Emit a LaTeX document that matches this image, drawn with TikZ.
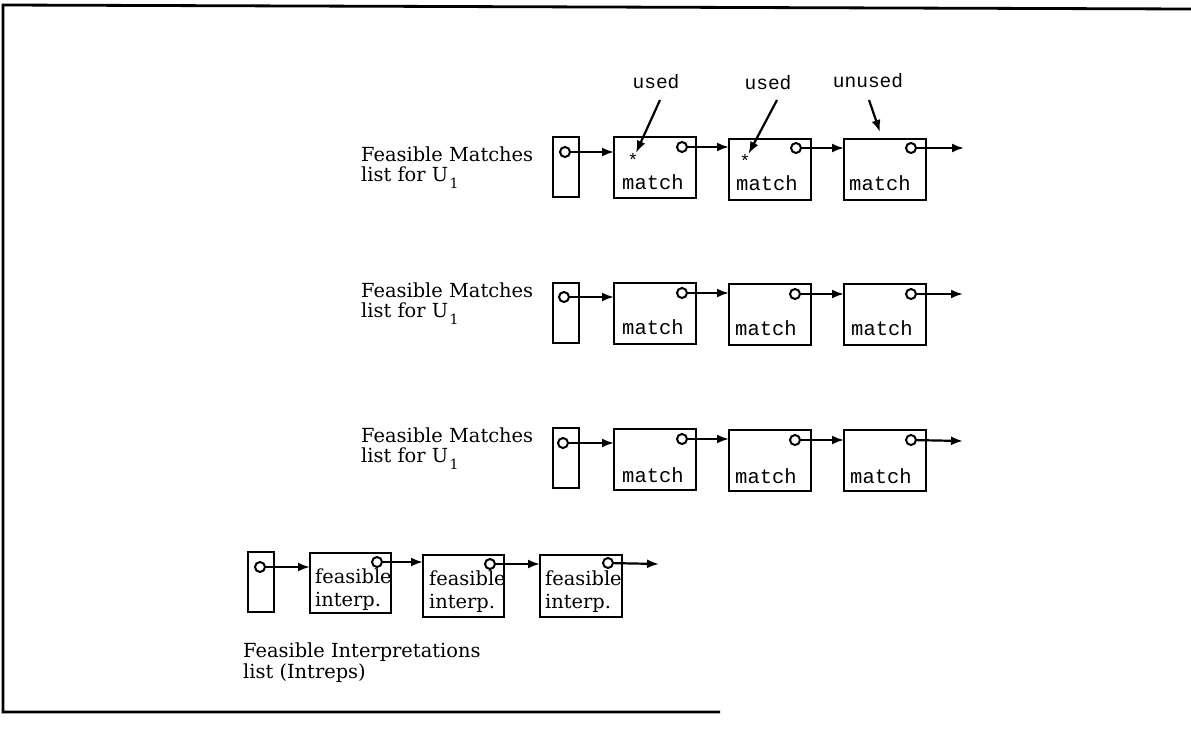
\documentclass[tikz,border=0pt]{standalone}
\usepackage{fontspec}
\setmainfont{DejaVu Serif}
\setmonofont{Liberation Mono}
\usetikzlibrary{arrows.meta}
\begin{document}
\begin{tikzpicture}[x=1pt,y=-1pt,
  frame/.style={line width=2.8pt},
  box/.style={draw,line width=2.2pt,inner sep=0pt,outer sep=0pt,anchor=north west},
  headbox/.style={box,minimum width=26pt,minimum height=60pt},
  matchbox/.style={box,minimum width=82pt,minimum height=61pt},
  ptr/.style={circle,draw,line width=2pt,minimum size=10pt,inner sep=0pt},
  link/.style={line width=2.2pt,-{Latex[length=12pt,width=9pt]}},
  lbl/.style={anchor=base west,inner sep=0pt,font=\fontsize{19.4}{20}\selectfont},
  sub/.style={anchor=base west,inner sep=0pt,font=\fontsize{14}{14}\selectfont},
  mono/.style={anchor=base west,inner sep=0pt,font=\ttfamily\fontsize{20.5}{20}\selectfont},
  tag/.style={anchor=base,inner sep=0pt,font=\ttfamily\fontsize{19.5}{19}\selectfont},
  star/.style={anchor=base,inner sep=0pt,font=\ttfamily\fontsize{18}{18}\selectfont},
]
\useasboundingbox (0,0) rectangle (1191,731);
% frame
\draw[frame] (1191,9) -- (3,5) -- (3,712) -- (720,712);

% ---------- row 1 ----------
\node[lbl] (r1a) at (361,161) {Feasible Matches};
\node[lbl] (r1b) at (361,181) {list for U};
\node[sub] (r1s) at (r1b.base east) [xshift=1pt,yshift=-7pt] {1};
\node[headbox] (h1) at (553,137) {};
\node[matchbox] (a11) at (614,137) {};
\node[matchbox] (a12) at (729,139) {};
\node[matchbox] (a13) at (844,139) {};
\node[ptr] (p10) at (565,152) {};
\node[ptr] (p11) at (682,147) {};
\node[ptr] (p12) at (796,148) {};
\node[ptr] (p13) at (911,148) {};
\coordinate (e1) at (964,148);
\draw[link] (p10) -- (p10 -| a11.west);
\draw[link] (p11) -- (p11 -| a12.west);
\draw[link] (p12) -- (p12 -| a13.west);
\draw[link] (p13) -- (e1);
\node[mono] (t11) at (622,189) {match};
\node[mono] (t12) at (736,190) {match};
\node[mono] (t13) at (849,190) {match};
\node[star] (s1) at (633,166) {*};
\node[star] (s2) at (745,167) {*};
\node[tag] (u1) at (656,88) {used};
\node[tag] (u2) at (768,89) {used};
\node[tag] (u3) at (868,87) {unused};
\coordinate (ua1) at (660,100);
\coordinate (ua2) at (777,100);
\coordinate (ua3) at (869,100);
\coordinate (ue3) at (880,132);
\draw[link] (ua1) -- (s1);
\draw[link] (ua2) -- (s2);
\draw[link] (ua3) -- (ue3);

% ---------- row 2 ----------
\node[lbl] (r2a) at (361,297) {Feasible Matches};
\node[lbl] (r2b) at (361,317) {list for U};
\node[sub] (r2s) at (r2b.base east) [xshift=1pt,yshift=-7pt] {1};
\node[headbox] (h2) at (553,283) {};
\node[matchbox] (a21) at (614,283) {};
\node[matchbox] (a22) at (729,284) {};
\node[matchbox] (a23) at (844,284) {};
\node[ptr] (p20) at (564,297) {};
\node[ptr] (p21) at (682,293) {};
\node[ptr] (p22) at (795,294) {};
\node[ptr] (p23) at (911,294) {};
\coordinate (e2) at (963,294);
\draw[link] (p20) -- (p20 -| a21.west);
\draw[link] (p21) -- (p21 -| a22.west);
\draw[link] (p22) -- (p22 -| a23.west);
\draw[link] (p23) -- (e2);
\node[mono] (t21) at (622,334) {match};
\node[mono] (t22) at (735,335) {match};
\node[mono] (t23) at (851,335) {match};

% ---------- row 3 ----------
\node[lbl] (r3a) at (361,442) {Feasible Matches};
\node[lbl] (r3b) at (361,462) {list for U};
\node[sub] (r3s) at (r3b.base east) [xshift=1pt,yshift=-7pt] {1};
\node[headbox] (h3) at (553,428) {};
\node[matchbox] (a31) at (614,429) {};
\node[matchbox] (a32) at (729,430) {};
\node[matchbox] (a33) at (844,430) {};
\node[ptr] (p30) at (563,443) {};
\node[ptr] (p31) at (682,439) {};
\node[ptr] (p32) at (795,440) {};
\node[ptr] (p33) at (911,440) {};
\coordinate (e3) at (963,441);
\draw[link] (p30) -- (p30 -| a31.west);
\draw[link] (p31) -- (p31 -| a32.west);
\draw[link] (p32) -- (p32 -| a33.west);
\draw[link] (p33) -- (e3);
\node[mono] (t31) at (622,482) {match};
\node[mono] (t32) at (735,483) {match};
\node[mono] (t33) at (850,483) {match};

% ---------- row 4 ----------
\node[headbox] (h4) at (248,552) {};
\node[box,minimum width=81pt,minimum height=60pt] (b1) at (310,553) {};
\node[box,minimum width=81pt,minimum height=62pt] (b2) at (423,555) {};
\node[box,minimum width=82pt,minimum height=62pt] (b3) at (540,555) {};
\node[lbl] (f1a) at (315,583) {feasible};
\node[lbl] (f1b) at (315,606) {interp.};
\node[lbl] (f2a) at (429,585) {feasible};
\node[lbl] (f2b) at (429,608) {interp.};
\node[lbl] (f3a) at (545,585) {feasible};
\node[lbl] (f3b) at (545,608) {interp.};
\node[ptr] (p40) at (260,567) {};
\node[ptr] (p41) at (377,562) {};
\node[ptr] (p42) at (490,564) {};
\node[ptr] (p43) at (608,563) {};
\coordinate (e4) at (659,564);
\draw[link] (p40) -- (p40 -| b1.west);
\draw[link] (p41) -- (p41 -| b2.west);
\draw[link] (p42) -- (p42 -| b3.west);
\draw[link] (p43) -- (e4);
\node[lbl] (fi1) at (243,657) {Feasible Interpretations};
\node[lbl] (fi2) at (243,678) {list (Intreps)};
\end{tikzpicture}
\end{document}
